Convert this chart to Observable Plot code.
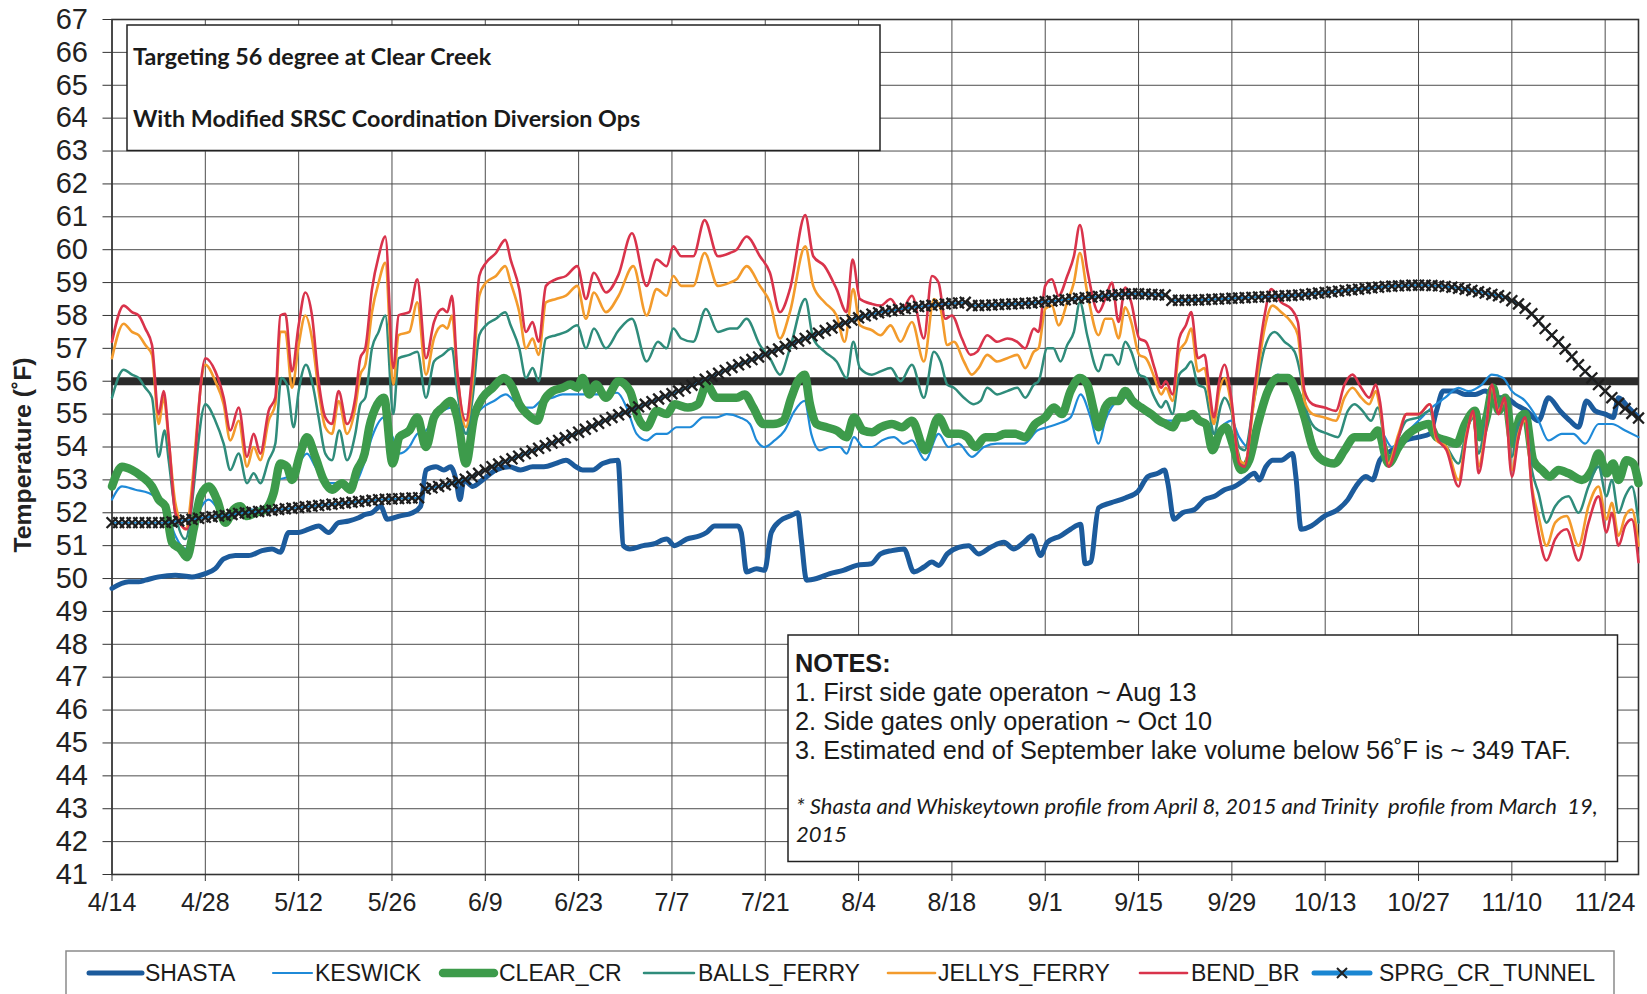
<!DOCTYPE html>
<html><head><meta charset="utf-8">
<script src="https://cdn.jsdelivr.net/npm/d3@7"></script>
<script src="https://cdn.jsdelivr.net/npm/@observablehq/plot@0.6"></script>
<style>
html,body{margin:0;padding:0;background:#fff;}
#wrap{position:relative;width:1647px;height:994px;overflow:hidden;background:#fff;}
#wrap > svg{position:absolute;left:0;top:0;}
#overlay{pointer-events:none;}
</style></head>
<body><div id="wrap"></div>
<script>
// ---- data: [day offset from 2015-04-14, temperature °F] ----
const SHASTA = [[0,49.7],[2.5,49.9],[4,49.9],[5,49.95],[7,50.05],[9.5,50.1],[12,50.05],[14,50.15],[15.5,50.3],[16.75,50.6],[18.5,50.7],[20.5,50.7],[22.5,50.85],[24,50.9],[25.25,50.8],[26.5,51.4],[28,51.4],[29.5,51.5],[31,51.6],[32.5,51.4],[34,51.7],[35.5,51.75],[37,51.85],[38,51.95],[39,52.0],[40.3,52.2],[41.3,51.8],[43.1,51.9],[45.1,52.0],[46.3,52.2],[47.1,53.3],[48.6,53.4],[49.8,53.3],[50.8,53.4],[51.6,53.0],[52.2,52.4],[52.8,53.0],[54.1,52.8],[55.6,53.0],[57.6,53.3],[59.6,53.4],[61.3,53.3],[63.1,53.4],[64.8,53.4],[66.6,53.5],[68.1,53.6],[69.6,53.4],[70.6,53.3],[72.1,53.3],[73.6,53.5],[75.9,53.6],[76.7,51.0],[77.7,50.9],[79.7,51.0],[81.2,51.05],[83.2,51.2],[84.4,51.0],[86.2,51.2],[88.2,51.3],[89.2,51.4],[90.4,51.6],[92.2,51.6],[93.9,51.6],[94.4,51.4],[95.2,50.2],[96.7,50.3],[97.9,50.25],[98.9,51.4],[100.2,51.75],[101.7,51.9],[102.9,52.0],[103.4,51.2],[104.2,49.95],[105.7,50.0],[107.7,50.15],[109.7,50.25],[111.7,50.4],[113.9,50.45],[115.3,50.75],[117,50.85],[118.8,50.9],[120.3,50.2],[121.8,50.35],[123,50.5],[124,50.4],[125.3,50.75],[127,50.95],[128.5,51.0],[130,50.75],[131.8,50.95],[133.8,51.1],[135.3,50.9],[136.8,51.1],[138,51.3],[139.3,50.7],[140.3,51.1],[142.3,51.3],[143.8,51.5],[145.3,51.65],[146,50.45],[146.8,50.5],[148,52.15],[149.8,52.3],[152,52.45],[153.9,52.65],[155.4,53.1],[156.9,53.2],[157.9,53.3],[158.4,52.9],[159.3,51.8],[160.6,52.0],[162.4,52.1],[163.9,52.4],[165.4,52.5],[166.9,52.7],[168.4,52.8],[169.9,53.0],[171.4,53.2],[172.1,53.0],[173.1,53.4],[174.1,53.6],[175.4,53.6],[177.1,53.8],[177.6,53.1],[178.4,51.5],[179.9,51.6],[181.9,51.9],[183.9,52.1],[185.4,52.4],[186.6,52.8],[188.1,53.1],[189.1,53.0],[190.2,53.6],[192,53.9],[194,54.2],[196,54.3],[197.7,54.4],[198.7,55.1],[199.7,55.7],[201.5,55.7],[203,55.6],[204.5,55.6],[206,55.7],[207.5,55.5],[209,55.5],[210.5,55.3],[212.2,55.1],[214,54.8],[215.5,55.5],[217.2,55.1],[218.7,54.8],[220,54.6],[221.2,55.4],[222.5,55.1],[224,55.0],[225.2,54.9],[226,55.5],[227.5,55.2],[229,54.9]];

const KESWICK = [[0,52.4],[1.5,52.8],[3.5,52.7],[5.5,52.6],[7,52.4],[8.25,52.0],[9.5,51.3],[11,50.9],[12.5,51.8],[14.5,52.4],[16,52.1],[17.5,51.8],[19.5,52.1],[21.5,52.1],[23.5,52.3],[25,53.0],[26.5,53.1],[28,53.5],[29.25,53.8],[30.5,53.4],[32,52.9],[34,52.9],[36,52.8],[37.9,53.55],[39,54.3],[40.8,54.9],[42.1,54.3],[43.1,53.8],[44.6,54.0],[45.8,54.4],[47.1,54.5],[48.3,54.9],[49.6,55.1],[50.8,55.2],[52.1,54.9],[53.1,54.4],[54.3,54.9],[55.6,55.2],[57.3,55.4],[59.1,55.6],[60.3,55.4],[61.6,55.2],[63.1,55.2],[64.3,55.4],[66.1,55.5],[67.6,55.6],[69.6,55.6],[71.6,55.6],[73.6,55.6],[75.8,55.65],[77.2,55.2],[78.7,54.4],[80.2,54.2],[81.7,54.4],[83.2,54.4],[84.7,54.6],[86.7,54.6],[88.7,54.9],[90.7,54.9],[92.2,55.0],[94.2,54.9],[95.7,54.7],[96.7,54.2],[97.9,54.0],[99.4,54.2],[100.9,54.5],[102.4,55.1],[103.9,55.4],[104.9,54.4],[106.2,53.9],[107.7,54.0],[109.2,54.0],[110.2,53.8],[111.3,54.3],[112.7,54.0],[114,54.0],[115.5,54.2],[117.3,54.3],[118.8,54.1],[120,54.2],[122,53.6],[124,54.4],[125.5,54.0],[127,54.1],[129,53.7],[130.8,54.0],[132.8,54.1],[134.8,54.1],[136.8,54.1],[138.8,54.5],[140.3,54.6],[141.8,54.7],[143.8,54.9],[145.3,55.6],[146.8,54.9],[148,54.1],[149,54.8],[150.3,55.3],[152,55.5],[153.9,55.2],[155.9,54.9],[157.9,54.8],[159.9,54.8],[161.9,54.9],[163.9,54.8],[165.4,54.4],[166.9,54.7],[167.9,54.8],[169.1,54.3],[170.4,54.0],[171.9,54.9],[173.4,55.8],[174.9,56.2],[176.4,56.0],[177.9,55.6],[179.4,54.8],[180.9,53.8],[182.9,53.5],[184.4,53.7],[185.9,54.2],[187.4,54.3],[188.9,54.3],[190.2,54.5],[192,54.0],[194,54.4],[196,54.8],[198,55.2],[200,55.5],[202,55.8],[203.5,55.7],[205.5,55.9],[207,56.2],[208.7,56.1],[210,55.7],[212,55.4],[214,54.8],[215.5,54.2],[217.5,54.4],[219.2,54.4],[221,54.1],[223,54.7],[225,54.7],[227,54.5],[229,54.3]];

const CLEAR_CR = [[0,52.8],[1.5,53.4],[3,53.3],[4.5,53.1],[6,52.8],[7,52.4],[8,52.2],[9,51.1],[10.25,50.9],[11.25,50.65],[12.25,51.5],[13.25,52.5],[14.5,52.8],[15.75,52.4],[17,51.7],[18.25,52.1],[19.25,52.2],[20.25,51.9],[21.5,52.0],[23,52.1],[24.25,52.6],[25.25,53.5],[26.25,53.4],[27,53.0],[28.25,53.8],[29.25,54.3],[30.5,53.7],[31.75,53.0],[33,52.7],[34.5,52.9],[35.75,52.7],[36.75,53.3],[37.9,53.8],[38.6,54.6],[39.8,55.3],[40.8,55.5],[42.1,53.5],[43.1,54.3],[44.6,54.5],[45.8,54.9],[47.1,54.0],[48.3,54.9],[49.6,55.2],[50.8,55.4],[51.8,54.9],[53.1,53.5],[54.3,54.9],[55.6,55.5],[57.1,55.8],[58.8,56.1],[60.1,55.8],[61.1,55.3],[62.3,55.0],[63.8,54.8],[64.8,55.4],[66.1,55.7],[67.6,55.8],[68.8,55.9],[69.8,55.8],[70.6,56.1],[71.6,55.6],[72.6,55.9],[74.1,55.5],[76,56.0],[77.7,55.7],[78.9,54.9],[80.2,54.6],[81.7,55.1],[83.2,55.0],[84.4,55.3],[86.4,55.2],[87.9,55.3],[89.2,55.9],[90.7,55.5],[92.2,55.5],[93.7,55.5],[94.9,55.6],[96.2,55.2],[97.7,54.7],[99.2,54.7],[100.7,54.8],[101.9,55.5],[102.9,56.0],[103.9,56.2],[104.7,55.3],[105.7,54.7],[107.2,54.6],[108.7,54.5],[110.2,54.3],[111.3,54.9],[112.7,54.5],[114,54.45],[115.3,54.6],[117,54.7],[118.5,54.6],[120,54.8],[122,53.9],[124,54.9],[125.5,54.4],[127,54.4],[128.3,54.3],[129.5,54.0],[131,54.3],[132.5,54.3],[134,54.4],[135.5,54.4],[137,54.3],[138.5,54.7],[140,54.9],[141.3,55.2],[142.5,55.0],[143.8,55.7],[145.2,56.1],[146.3,55.9],[147.3,55.1],[148,54.6],[149,55.2],[150,55.4],[151,55.4],[152,55.7],[153.1,55.4],[154.4,55.2],[155.9,55.0],[157.1,54.8],[158.1,54.7],[159.1,54.6],[160.1,54.9],[161.1,54.9],[162.1,55.0],[163.1,54.8],[164.1,54.7],[165.1,53.9],[166.1,54.4],[167.1,54.6],[168.1,54.1],[169.4,53.3],[170.6,53.6],[171.9,54.7],[173.4,55.7],[174.9,56.1],[176.4,56.1],[177.6,55.7],[178.9,54.9],[180.1,54.0],[181.6,53.6],[183.4,53.5],[184.9,53.9],[186.4,54.3],[187.6,54.3],[188.9,54.3],[189.9,54.5],[191.5,53.5],[193,54.0],[194.5,54.4],[196,54.6],[197.5,54.7],[198.7,54.3],[200.2,54.2],[201.7,54.1],[203,54.7],[204.5,55.1],[205.2,54.3],[206.2,54.9],[207.2,55.8],[208,55.1],[209,55.5],[210.2,54.1],[211.2,54.9],[212,55.0],[213.2,53.6],[214.5,53.3],[215.7,53.1],[217,53.3],[218.5,53.2],[220.5,53.0],[222,53.3],[223,53.8],[224.2,53.2],[225.2,53.5],[226,53.0],[227.2,53.6],[228.2,53.5],[229,52.9]];

const BALLS_FERRY = [[0,55.5],[1.75,56.35],[3,56.2],[4,56.1],[5,55.8],[6,55.5],[7,53.7],[7.9,54.5],[8.5,53.6],[9.5,52.0],[11,51.2],[14,55.3],[15.5,54.8],[16.75,54.1],[17.75,53.3],[19,53.8],[20.25,52.9],[21.25,53.2],[22.25,52.9],[23.5,53.6],[24.5,54.1],[25.4,56.1],[26.25,55.9],[27.25,54.6],[28,55.7],[29.1,56.5],[30.1,55.9],[31,54.9],[32,53.8],[33,53.6],[34.1,54.5],[35.25,53.6],[36.5,54.4],[37.25,55.3],[38,55.5],[39,57.0],[40,57.5],[41,58.0],[42.2,55.0],[43,56.7],[44.6,56.8],[45.8,56.9],[47.1,55.5],[48.3,56.6],[49.6,56.8],[51,57.0],[51.8,55.7],[53.1,54.4],[54.1,55.5],[55.1,57.4],[56.1,57.7],[57.6,57.9],[59,58.1],[59.8,57.7],[61.1,57.0],[62.1,56.1],[63.1,56.4],[64,56.0],[65.1,57.3],[66.6,57.4],[68.1,57.5],[69.8,57.7],[71.1,57.0],[72.3,57.6],[74.1,57.0],[76,57.55],[78,57.9],[80.2,56.6],[81.9,57.2],[83.2,57.0],[84.2,57.6],[85.4,57.3],[87.2,57.2],[89.1,58.2],[90.9,57.5],[92.7,57.6],[93.7,57.6],[95.2,57.9],[97.2,57.1],[98.7,56.7],[100.2,56.2],[101.7,57.0],[104,58.5],[105.2,57.3],[106.9,56.9],[108.7,56.6],[110.2,56.1],[111.2,57.2],[112.2,56.4],[114,56.2],[115.3,56.3],[116.8,56.4],[118.3,56.0],[120,56.5],[121.8,55.5],[123.3,56.9],[124.3,56.6],[125.3,55.9],[126.3,55.8],[127.8,55.5],[129.3,55.3],[130.3,55.4],[131.3,55.8],[132.8,55.6],[134.3,55.7],[135.8,55.8],[137,55.5],[138.3,55.9],[139,56.0],[140.3,57.0],[141.2,57.0],[142.3,56.6],[143.3,57.1],[144.3,57.5],[145.2,58.4],[146.3,57.4],[148,56.3],[149,56.8],[150,56.8],[151,56.5],[152,57.2],[152.9,56.9],[154.1,56.2],[155.1,56.1],[156.4,55.5],[157.4,55.2],[158.1,55.4],[159.1,55.0],[160.1,56.2],[161.1,56.4],[161.9,56.6],[162.9,55.9],[163.9,55.8],[164.6,55.1],[165.3,54.4],[166.4,55.3],[166.9,55.5],[167.9,55.1],[169.1,54.0],[169.9,53.9],[171.4,55.5],[172.9,57.0],[174.4,57.5],[175.9,57.2],[177.4,56.9],[178.4,56.1],[179.1,55.2],[180.4,54.6],[182.4,54.4],[183.9,54.3],[185.4,55.1],[186.4,55.3],[187.6,55.1],[188.9,54.8],[189.9,55.2],[191.5,53.5],[193,54.3],[194.2,54.8],[196,54.9],[197.7,55.1],[198.7,54.3],[200.2,54.0],[202,53.5],[203.2,54.5],[204.2,54.9],[205,53.8],[206,54.7],[207,55.8],[208,55.2],[208.9,55.4],[210,53.7],[211,54.7],[212,54.9],[213,53.3],[214,52.6],[215.2,51.7],[216.5,52.2],[218.5,52.5],[220,52.0],[221.5,52.8],[223,53.4],[224.2,52.5],[225,53.0],[226,52.0],[227,52.5],[228,52.8],[229,51.7]];

const JELLYS_FERRY = [[0,56.7],[1.75,57.75],[3,57.5],[4,57.4],[5,57.1],[6,56.8],[7,54.7],[7.75,55.5],[8.5,54.2],[9.5,52.3],[11,51.5],[14,56.5],[15.5,56.0],[16.75,55.3],[17.75,54.2],[19,54.8],[20.25,53.4],[21.25,54.0],[22.25,53.6],[23.5,54.8],[24.5,55.3],[25.25,57.5],[26,57.5],[27,55.8],[28,57.1],[29,58.0],[30,57.3],[31,55.7],[32,54.6],[33,54.4],[34,55.4],[35.25,54.4],[36.5,55.2],[37.25,56.2],[38,56.5],[39,58.1],[40,59.0],[41,59.6],[42.2,55.9],[43,57.4],[44.6,57.5],[45.8,58.4],[47.1,56.2],[48.3,57.3],[49.6,57.7],[50.3,57.6],[51,58.0],[51.8,56.2],[53.1,54.6],[54.1,56.0],[55.1,58.6],[56.1,59.0],[57.6,59.2],[59,59.5],[59.8,59.0],[61.1,58.1],[62.1,57.0],[63.1,57.3],[64,56.8],[65.1,58.4],[66.6,58.5],[68.1,58.6],[69.8,58.9],[71.1,57.9],[72.3,58.7],[74.1,58.1],[76,58.6],[78.2,59.5],[80.2,58.0],[81.7,58.8],[83.2,58.6],[84.2,59.2],[85.4,58.9],[87.2,58.9],[88.9,59.9],[90.9,58.9],[92.7,59.0],[93.7,59.1],[95.2,59.5],[97.2,58.9],[98.7,58.4],[100.2,57.3],[101.7,58.1],[104,60.1],[105.2,58.9],[106.9,58.4],[108.7,58.0],[109.9,57.2],[111.2,58.8],[112.2,57.7],[114,57.55],[115.3,57.4],[116.8,57.7],[118.3,57.2],[120,57.8],[121.8,56.6],[123.3,58.5],[124.3,58.2],[125.3,57.1],[126.3,57.2],[127.8,56.6],[129,56.2],[130,56.4],[131.3,56.8],[132.8,56.6],[134.3,56.7],[135.8,56.8],[137,56.4],[138.3,56.9],[139,57.0],[140,58.2],[141,58.3],[142,57.7],[143.3,58.4],[144.3,59.0],[145.2,59.9],[146.3,58.7],[148,57.4],[149,57.9],[150,57.9],[151,57.3],[152,58.25],[152.9,57.8],[154.1,56.8],[155.1,56.7],[156.4,56.1],[157.4,55.6],[158.1,55.8],[159.1,55.4],[160.1,56.9],[161.1,57.2],[161.9,57.6],[162.9,56.3],[163.9,56.4],[164.6,55.5],[165.3,54.7],[166.1,55.7],[166.9,56.1],[167.9,55.3],[169.1,53.6],[169.9,53.5],[171.4,55.5],[172.9,57.6],[174.1,58.3],[175.4,58.1],[176.9,57.8],[177.9,57.4],[178.9,55.4],[180.1,55.0],[181.9,54.9],[183.6,54.8],[184.9,55.5],[186.1,55.8],[187.4,55.5],[188.6,55.3],[189.6,55.7],[190.2,55.2],[191.5,53.5],[193,54.4],[194.2,55.0],[196,55.0],[197.7,55.3],[198.7,54.2],[200.2,54.0],[202,53.0],[203.2,54.4],[204.2,55.0],[205,53.4],[206,54.4],[207,55.8],[208,55.1],[208.9,55.4],[210,53.3],[211,54.4],[212,54.8],[213,52.8],[214,51.9],[215.2,51.0],[216.5,51.7],[218.2,51.9],[220,51.0],[221.5,52.2],[223,52.8],[224.2,51.8],[225,52.3],[226,51.3],[227,51.9],[228,52.1],[229,51.0]];

const BEND_BR = [[0,57.2],[1.75,58.3],[3,58.1],[4,58.0],[5,57.6],[6,57.1],[7,55.0],[7.75,55.7],[8.5,54.3],[9.5,52.0],[11.25,51.5],[14,56.7],[15.5,56.3],[16.75,55.5],[17.75,54.5],[19,55.2],[20.25,53.7],[21.25,54.4],[22.25,53.8],[23.5,55.1],[24.5,55.5],[25.25,58.0],[26,58.05],[27,56.3],[28,57.7],[29,58.7],[30,58.0],[31,56.0],[32,54.9],[33,54.7],[34,55.7],[35.25,54.7],[36.5,55.5],[37.25,56.7],[38,57.0],[39,58.8],[40,59.8],[41,60.4],[42.2,56.4],[43,58.0],[44.6,58.1],[45.8,59.1],[47.1,56.7],[48.3,57.8],[49.6,58.2],[50.3,58.1],[51,58.6],[51.8,56.3],[53.1,54.8],[54.1,56.4],[55.1,59.2],[56.1,59.6],[57.6,59.9],[59,60.3],[59.8,59.7],[61.1,58.8],[62.1,57.5],[63.1,57.8],[64,57.2],[65.1,58.9],[66.6,59.1],[68.1,59.2],[69.8,59.5],[71.1,58.5],[72.3,59.3],[74.1,58.7],[76,59.25],[78,60.5],[80.2,58.9],[81.7,59.7],[83.2,59.5],[84.2,60.1],[85.4,59.8],[87.2,59.8],[88.9,60.9],[90.9,59.8],[92.7,59.9],[93.7,60.0],[95.2,60.4],[97.2,59.8],[98.7,59.3],[100.2,58.1],[101.7,58.8],[104,61.05],[105.2,59.8],[106.9,59.5],[108.7,58.8],[110.2,58.1],[111.1,59.7],[112.2,58.5],[114,58.35],[115.3,58.3],[116.8,58.5],[118.3,58.1],[120,58.6],[121.8,57.3],[123,59.2],[124,59.0],[125,57.9],[126,58.0],[127.5,57.3],[128.8,56.8],[129.8,56.9],[131.3,57.4],[132.8,57.2],[134.3,57.3],[135.8,57.2],[137,57.0],[138.3,57.6],[139,57.5],[140,58.9],[141,59.1],[142,58.6],[143.3,59.2],[144.3,59.8],[145.2,60.75],[146.3,59.4],[148,58.1],[149,58.5],[150,59.0],[151,57.8],[152,58.85],[152.9,58.4],[154.1,57.3],[155.1,57.2],[156.4,56.4],[157.4,55.8],[158.1,56.0],[159.1,55.6],[160.1,57.3],[161.1,57.7],[161.9,58.1],[162.9,56.7],[163.9,56.8],[164.6,55.8],[165.3,54.9],[166.1,56.0],[166.9,56.5],[167.9,55.5],[169.1,53.5],[169.9,53.4],[171.4,55.8],[172.9,58.0],[173.9,58.8],[175.4,58.4],[176.9,58.2],[177.9,57.8],[178.9,55.7],[180.1,55.3],[181.9,55.2],[183.6,55.1],[184.9,55.9],[186.1,56.2],[187.4,55.8],[188.6,55.5],[189.6,55.9],[190.2,55.4],[191.5,53.4],[193,54.3],[194.2,55.0],[196,55.0],[197.7,55.3],[198.7,54.3],[200.2,53.9],[202,52.8],[203.2,54.3],[204.2,55.1],[205,53.2],[206,54.3],[207,55.9],[208,55.0],[208.9,55.5],[210,53.1],[211,54.3],[212,54.9],[213,52.7],[214,51.4],[215.2,50.55],[216.5,51.2],[218.2,51.5],[220,50.55],[221.5,51.7],[223,52.5],[224.2,51.4],[225,52.0],[226,51.0],[227,51.6],[228,51.8],[229,50.5]];

// SPRG_CR_TUNNEL: one value per day, 4/14 .. 11/29
const SPRG_CR_TUNNEL = [
51.70,51.70,51.70,51.70,51.70,51.70,51.70,51.70,51.70,
51.72,51.75,51.78,51.80,51.83,51.86,
51.88,51.90,51.92,51.95,51.98,
52.00,52.02,52.04,52.06,52.08,
52.10,52.12,52.14,52.16,52.18,
52.20,52.22,52.24,52.26,52.28,
52.30,52.32,52.34,52.36,52.38,
52.40,52.41,52.42,52.43,52.44,52.45,52.46,
52.72,52.76,52.80,52.85,52.90,52.96,
53.02,53.10,53.20,53.30,53.40,
53.48,53.56,53.64,53.72,53.80,
53.88,53.96,54.04,54.12,54.20,
54.28,54.36,54.45,54.54,54.63,
54.72,54.81,54.90,54.98,55.06,
55.14,55.22,55.30,55.38,55.46,
55.54,55.62,55.70,55.79,55.88,
55.97,56.06,56.15,56.24,56.33,
56.42,56.50,56.58,56.66,56.74,
56.82,56.90,56.98,57.06,57.14,
57.22,57.30,57.38,57.46,57.54,
57.62,57.70,57.78,57.86,57.93,
57.99,58.04,58.08,58.12,58.15,
58.18,58.21,58.24,58.27,58.29,
58.31,58.33,58.35,58.37,58.38,
58.40,
58.30,58.30,58.31,58.32,58.33,
58.34,58.35,58.36,58.37,58.38,
58.40,58.42,58.44,58.46,58.48,
58.50,58.52,58.54,58.56,58.58,
58.60,58.62,58.64,58.65,58.66,
58.66,58.65,58.64,58.63,58.62,
58.46,58.46,58.46,58.47,58.47,
58.48,58.49,58.50,58.51,58.52,
58.53,58.54,58.55,58.56,58.57,
58.58,58.59,58.60,58.61,58.62,
58.64,58.66,58.68,58.70,58.72,
58.74,58.76,58.78,58.80,58.82,
58.84,58.86,58.88,58.89,58.90,
58.91,58.92,58.92,58.92,58.91,
58.90,58.88,58.86,58.83,58.80,
58.76,58.72,58.68,58.64,58.60,
58.55,58.45,58.35,58.22,58.05,
57.83,57.60,57.40,57.20,56.98,
56.75,56.50,56.30,56.10,55.90,
55.70,55.50,55.33,55.17,55.02,
54.88];

const TARGET = [56];
const Y_TICKS = d3.range(41, 68);
const X_TICK_DAYS = d3.range(0, 225, 14);   // 4/14 ... 11/24
const X_END_DAY = 229;

// ---- helpers / styles ----
const START = Date.UTC(2015, 3, 14);
const dayDate = d => new Date(START + d * 864e5);

const STYLE = {
  SHASTA:        {stroke: "#1c5b9c", width: 5},
  KESWICK:       {stroke: "#1f8ad8", width: 2.2},
  CLEAR_CR:      {stroke: "#3d9b4b", width: 8.5},
  BALLS_FERRY:   {stroke: "#2f8c7b", width: 2.5},
  JELLYS_FERRY:  {stroke: "#f39b2c", width: 2.6},
  BEND_BR:       {stroke: "#d9334b", width: 2.6},
  SPRG_CR_TUNNEL:{stroke: "#1a86d2", width: 2}
};
const LINE_SERIES = [["SHASTA", SHASTA], ["KESWICK", KESWICK], ["CLEAR_CR", CLEAR_CR],
  ["BALLS_FERRY", BALLS_FERRY], ["JELLYS_FERRY", JELLYS_FERRY], ["BEND_BR", BEND_BR]];
const tunnelData = SPRG_CR_TUNNEL.map((v, i) => [i, v]);

const FONT = "'Liberation Sans', Arial, sans-serif";
const CAL = "Lato, 'Open Sans', sans-serif";

const marks = [
  Plot.gridY(Y_TICKS, {stroke: "#4d4d4d", strokeOpacity: 1, strokeWidth: 1}),
  Plot.gridX(X_TICK_DAYS.map(dayDate), {stroke: "#4d4d4d", strokeOpacity: 1, strokeWidth: 1}),
  Plot.axisY(Y_TICKS, {tickSize: 9, tickPadding: 15, fontSize: 29, label: null, stroke: "#333"}),
  Plot.axisX(X_TICK_DAYS.map(dayDate), {tickSize: 7, tickPadding: 12, fontSize: 25, label: null,
    tickFormat: d3.utcFormat("%-m/%-d"), stroke: "#333"}),
  Plot.frame({stroke: "#333", strokeWidth: 1.6}),
  Plot.ruleY(TARGET, {stroke: "#2b2b2b", strokeWidth: 8})
];
for (const [name, data] of LINE_SERIES) {
  marks.push(Plot.line(data, {x: d => dayDate(d[0]), y: d => d[1], stroke: STYLE[name].stroke,
    strokeWidth: STYLE[name].width, curve: "monotone-x", strokeLinejoin: "round", strokeLinecap: "round"}));
}
marks.push(Plot.line(tunnelData, {x: d => dayDate(d[0]), y: d => d[1], stroke: STYLE.SPRG_CR_TUNNEL.stroke,
  strokeWidth: STYLE.SPRG_CR_TUNNEL.width, curve: "monotone-x"}));
marks.push(Plot.dot(tunnelData, {x: d => dayDate(d[0]), y: d => d[1], symbol: "times", r: 5,
  stroke: "#1e1e1e", strokeWidth: 2.3}));

const chart = Plot.plot({
  width: 1647, height: 940,
  marginLeft: 111.5, marginRight: 9, marginTop: 19, marginBottom: 66,
  style: {fontFamily: FONT, background: "white", color: "#222"},
  x: {type: "utc", domain: [dayDate(0), dayDate(X_END_DAY)]},
  y: {domain: [41, 67]},
  marks
});
const wrap = document.getElementById("wrap");
wrap.appendChild(chart);

// ---- overlay: annotation boxes, axis title, legend ----
const ov = d3.create("svg").attr("id", "overlay").attr("width", 1647).attr("height", 994)
  .style("position", "absolute").style("left", "0px").style("top", "0px");

// Y axis title
ov.append("text").attr("transform", "translate(31,455) rotate(-90)")
  .attr("text-anchor", "middle").attr("font-family", FONT).attr("font-weight", "bold")
  .attr("font-size", 24.8).attr("fill", "#222").text("Temperature (˚F)");

// Title box
ov.append("rect").attr("x", 127).attr("y", 25).attr("width", 753).attr("height", 125.5)
  .attr("fill", "white").attr("stroke", "#222").attr("stroke-width", 1.5);
const TITLE_LINES = ["Targeting 56 degree at Clear Creek", "With Modified SRSC Coordination Diversion Ops"];
[65, 127].forEach((y, i) => ov.append("text").attr("x", 133).attr("y", y).attr("font-family", CAL)
  .attr("font-weight", "bold").attr("font-size", 23.3).attr("fill", "#1a1a1a").text(TITLE_LINES[i]));

// Notes box
ov.append("rect").attr("x", 788).attr("y", 635).attr("width", 829.5).attr("height", 226.5)
  .attr("fill", "white").attr("stroke", "#222").attr("stroke-width", 1.5);
const NOTES = ["1. First side gate operaton ~ Aug 13", "2. Side gates only operation ~ Oct 10",
  "3. Estimated end of September lake volume below 56˚F is ~ 349 TAF."];
ov.append("text").attr("x", 795).attr("y", 671.5).attr("font-family", FONT).attr("font-weight", "bold")
  .attr("font-size", 25.3).attr("fill", "#1a1a1a").text("NOTES:");
[701, 730, 758.5].forEach((y, i) => ov.append("text").attr("x", 795).attr("y", y)
  .attr("font-family", FONT).attr("font-size", 25.3).attr("fill", "#1a1a1a").text(NOTES[i]));
const FOOT = ["* Shasta and Whiskeytown profile from April 8, 2015 and Trinity  profile from March  19,", "2015"];
[814, 842].forEach((y, i) => ov.append("text").attr("x", 796).attr("y", y)
  .attr("font-family", CAL).attr("font-style", "italic")
  .attr("font-size", 22).attr("fill", "#1a1a1a")
  .style("white-space", "pre").text(FOOT[i]));

// Legend
ov.append("rect").attr("x", 66).attr("y", 951).attr("width", 1548).attr("height", 70)
  .attr("fill", "white").attr("stroke", "#8a8a8a").attr("stroke-width", 1.5);
const LEGEND = [
  ["SHASTA", 89, 142, 145], ["KESWICK", 273, 312, 315], ["CLEAR_CR", 443, 494, 499],
  ["BALLS_FERRY", 644, 694, 698], ["JELLYS_FERRY", 888, 935, 938], ["BEND_BR", 1140, 1187, 1191],
  ["SPRG_CR_TUNNEL", 1314, 1370, 1379]
];
const LY = 973;
for (const [name, x1, x2, tx] of LEGEND) {
  const s = STYLE[name];
  const w = name === "SPRG_CR_TUNNEL" ? 5 : s.width;
  ov.append("line").attr("x1", x1).attr("x2", x2).attr("y1", LY).attr("y2", LY)
    .attr("stroke", s.stroke).attr("stroke-width", w).attr("stroke-linecap", "round");
  if (name === "SPRG_CR_TUNNEL") {
    const cx = (x1 + x2) / 2;
    ov.append("path").attr("d", `M${cx-5},${LY-5}L${cx+5},${LY+5}M${cx-5},${LY+5}L${cx+5},${LY-5}`)
      .attr("stroke", "#222").attr("stroke-width", 2);
  }
  ov.append("text").attr("x", tx).attr("y", LY + 8.3).attr("font-family", FONT)
    .attr("font-size", 23).attr("fill", "#1a1a1a").text(name);
}
wrap.appendChild(ov.node());
</script>
</body></html>
